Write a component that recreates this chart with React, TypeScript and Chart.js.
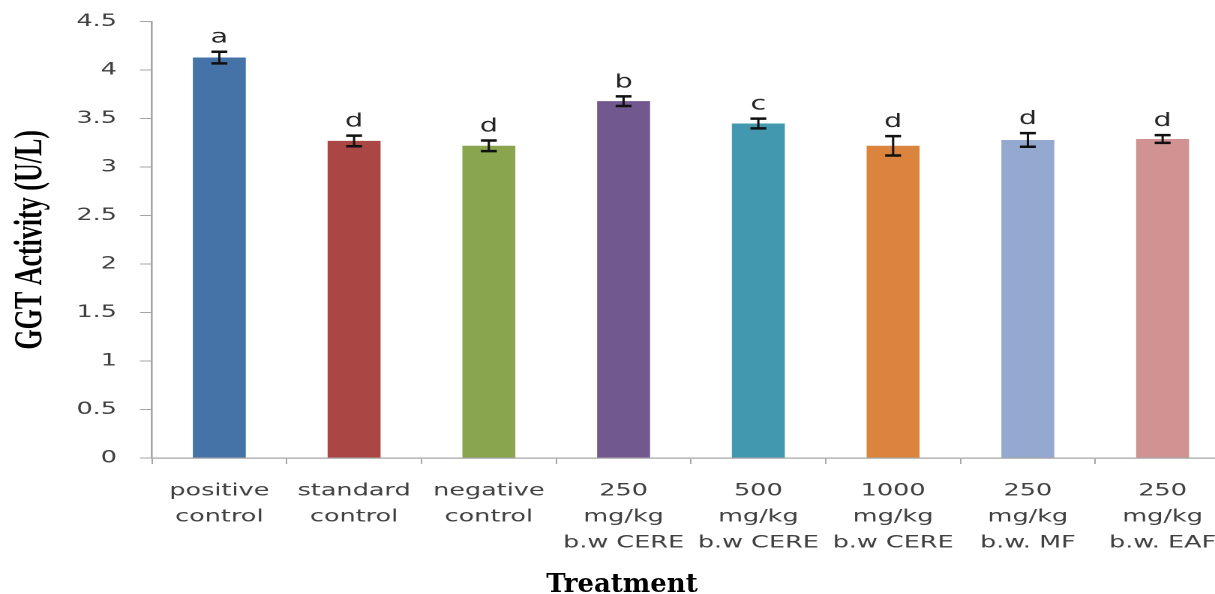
import React, { useEffect, useRef } from "react";
import { Chart, registerables } from "chart.js";

Chart.register(...registerables);

// Treatment groups (multi-line category labels)
const categories: string[][] = [
  ["positive", "control"],
  ["standard", "control"],
  ["negative", "control"],
  ["250", "mg/kg", "b.w CERE"],
  ["500", "mg/kg", "b.w CERE"],
  ["1000", "mg/kg", "b.w CERE"],
  ["250", "mg/kg", "b.w. MF"],
  ["250", "mg/kg", "b.w. EAF"],
];

// Mean GGT activity (U/L) and standard error per group
const ggtMeans: number[] = [4.13, 3.27, 3.22, 3.68, 3.45, 3.22, 3.28, 3.29];
const ggtErrors: number[] = [0.06, 0.055, 0.055, 0.05, 0.05, 0.1, 0.07, 0.04];

// Significance letters shown above each bar
const sigLetters: string[] = ["a", "d", "d", "b", "c", "d", "d", "d"];

// Y axis tick values
const yTicks: number[] = [0, 0.5, 1, 1.5, 2, 2.5, 3, 3.5, 4, 4.5];

const barColors = [
  "#4572A7",
  "#AA4643",
  "#89A54E",
  "#71588F",
  "#4198AF",
  "#DB843D",
  "#93A9CF",
  "#D19392",
];

// The figure is drawn at a narrower logical width and widened horizontally with CSS.
const STRETCH = 1.5;
const LOGICAL_W = 860;
const LOGICAL_H = 594;

const errorBarsAndLetters = {
  id: "errorBarsAndLetters",
  afterDatasetsDraw(chart: any) {
    const ctx = chart.ctx;
    const meta = chart.getDatasetMeta(0);
    const yScale = chart.scales.y;
    ctx.save();
    ctx.strokeStyle = "#111";
    meta.data.forEach((bar: any, i: number) => {
      const v = ggtMeans[i];
      const e = ggtErrors[i];
      const x = bar.x;
      const yTop = yScale.getPixelForValue(v + e);
      const yBot = yScale.getPixelForValue(v - e);
      const half = 5.3;
      ctx.lineWidth = 1.5;
      ctx.beginPath();
      ctx.moveTo(x, yTop);
      ctx.lineTo(x, yBot);
      ctx.stroke();
      ctx.lineWidth = 2.5;
      ctx.beginPath();
      ctx.moveTo(x - half, yTop);
      ctx.lineTo(x + half, yTop);
      ctx.moveTo(x - half, yBot);
      ctx.lineTo(x + half, yBot);
      ctx.stroke();

      ctx.fillStyle = "#262626";
      ctx.font = "19px 'DejaVu Sans'";
      ctx.textAlign = "center";
      ctx.textBaseline = "alphabetic";
      ctx.fillText(sigLetters[i], x, yTop - 9);
    });
    ctx.restore();
  },
};

export default function App() {
  const canvasRef = useRef<HTMLCanvasElement | null>(null);

  useEffect(() => {
    document.body.style.margin = "0";
    const canvas = canvasRef.current;
    if (!canvas) return;
    const chart = new Chart(canvas, {
      type: "bar",
      data: {
        labels: categories,
        datasets: [
          {
            data: ggtMeans,
            backgroundColor: barColors,
            borderWidth: 0,
            barPercentage: 0.393,
            categoryPercentage: 1,
          },
        ],
      },
      options: {
        responsive: false,
        animation: false,
        devicePixelRatio: 2,
        layout: { padding: { top: 10, right: 40, bottom: 24, left: 0 } },
        plugins: {
          legend: { display: false },
          tooltip: { enabled: false },
        },
        scales: {
          x: {
            offset: true,
            grid: {
              offset: true,
              drawOnChartArea: false,
              drawTicks: true,
              tickLength: 6,
              color: "#A6A6A6",
              lineWidth: 1,
            },
            border: { color: "#A6A6A6", width: 1.3 },
            ticks: {
              color: "#404040",
              font: { family: "'DejaVu Sans'", size: 17, lineHeight: 1.53 },
              padding: 14,
              maxRotation: 0,
              minRotation: 0,
              autoSkip: false,
            },
          },
          y: {
            min: 0,
            max: 4.5,
            afterFit(scale: any) {
              scale.width = 101.3;
            },
            afterBuildTicks(scale: any) {
              scale.ticks = yTicks.map((v) => ({ value: v }));
            },
            grid: {
              drawOnChartArea: false,
              drawTicks: true,
              tickLength: 8,
              color: "#A6A6A6",
              lineWidth: 1,
            },
            border: { color: "#A6A6A6", width: 1.3 },
            ticks: {
              color: "#404040",
              font: { family: "'DejaVu Sans'", size: 17, lineHeight: 0.75 },
              padding: 15.3,
              callback: (v: any) => String(v),
            },
            title: {
              display: true,
              text: "GGT Activity (U/L)",
              color: "#000",
              font: {
                family: "'Liberation Serif'",
                size: 26,
                weight: "bold",
                lineHeight: 1,
              },
              padding: { top: 8, bottom: 0 },
            },
          },
        },
      },
      plugins: [errorBarsAndLetters],
    });
    return () => chart.destroy();
  }, []);

  return (
    <div
      style={{
        position: "fixed",
        left: 0,
        top: 0,
        width: 1215,
        height: 594,
        overflow: "hidden",
        background: "#fff",
      }}
    >
      <canvas
        ref={canvasRef}
        width={LOGICAL_W}
        height={LOGICAL_H}
        style={{
          width: `${LOGICAL_W * STRETCH}px`,
          height: `${LOGICAL_H}px`,
          display: "block",
        }}
      />
      <div
        style={{
          position: "absolute",
          left: 522,
          top: 568,
          width: 200,
          textAlign: "center",
          fontFamily: "'DejaVu Serif'",
          fontWeight: "bold",
          fontSize: 26,
          lineHeight: "30px",
          color: "#000",
        }}
      >
        Treatment
      </div>
    </div>
  );
}
